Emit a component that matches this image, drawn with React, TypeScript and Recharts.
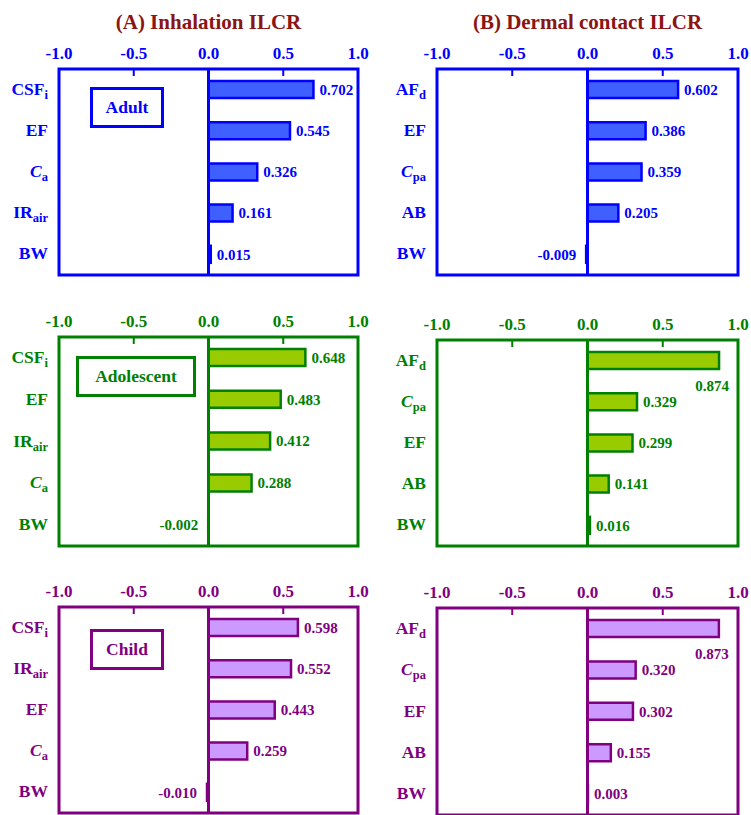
import React from 'react';
import { BarChart, Bar, XAxis, YAxis, ReferenceLine, ReferenceArea, LabelList } from 'recharts';

const FONT = '"Liberation Serif", "Times New Roman", Times, serif';

// Sensitivity values per parameter, listed top to bottom in each panel
const inhalationAdultParams = ['CSFi', 'EF', 'Ca', 'IRair', 'BW'];
const inhalationAdultValues = [0.702, 0.545, 0.326, 0.161, 0.015];
const dermalAdultParams = ['AFd', 'EF', 'Cpa', 'AB', 'BW'];
const dermalAdultValues = [0.602, 0.386, 0.359, 0.205, -0.009];

const inhalationAdolescentParams = ['CSFi', 'EF', 'IRair', 'Ca', 'BW'];
const inhalationAdolescentValues = [0.648, 0.483, 0.412, 0.288, -0.002];
const dermalAdolescentParams = ['AFd', 'Cpa', 'EF', 'AB', 'BW'];
const dermalAdolescentValues = [0.874, 0.329, 0.299, 0.141, 0.016];

const inhalationChildParams = ['CSFi', 'IRair', 'EF', 'Ca', 'BW'];
const inhalationChildValues = [0.598, 0.552, 0.443, 0.259, -0.01];
const dermalChildParams = ['AFd', 'Cpa', 'EF', 'AB', 'BW'];
const dermalChildValues = [0.873, 0.32, 0.302, 0.155, 0.003];

const axisTicks = [-1, -0.5, 0, 0.5, 1];
const columnTitles = ['(A) Inhalation ILCR', '(B) Dermal contact ILCR'];
const groupNames = ['Adult', 'Adolescent', 'Child'];

type ParamLabel = { main: string; sub?: string; italic?: boolean };
const PARAM_LABELS: Record<string, ParamLabel> = {
  CSFi: { main: 'CSF', sub: 'i' },
  EF: { main: 'EF' },
  Ca: { main: 'C', sub: 'a', italic: true },
  IRair: { main: 'IR', sub: 'air' },
  BW: { main: 'BW' },
  AFd: { main: 'AF', sub: 'd' },
  Cpa: { main: 'C', sub: 'pa', italic: true },
  AB: { main: 'AB' },
};

type Theme = { line: string; fill: string };
const THEMES: Theme[] = [
  { line: '#0000ff', fill: '#3f60ff' },
  { line: '#008000', fill: '#99cc00' },
  { line: '#800080', fill: '#cc99ff' },
];
const TITLE_COLOR = '#8b1414';

const buildRows = (params: string[], values: number[]) =>
  params.map((p, i) => ({ param: p, value: values[i] }));

const Y_AXIS_W = 60;
const TOP_SPACE = 40;

type PanelProps = {
  params: string[];
  values: number[];
  theme: Theme;
  plotLeft: number;
  plotTop: number;
  plotWidth: number;
  plotHeight: number;
};

const Panel = ({ params, values, theme, plotLeft, plotTop, plotWidth, plotHeight }: PanelProps) => {
  const data = buildRows(params, values);
  const color = theme.line;
  const plotRight = Y_AXIS_W + plotWidth;
  const width = Y_AXIS_W + plotWidth + 30;
  const height = TOP_SPACE + plotHeight + 12;

  const xTick = (props: any) => {
    const { x, y, payload } = props;
    return (
      <g>
        <line x1={x} x2={x} y1={y} y2={y + 7} stroke={color} strokeWidth={2} />
        <text
          x={x}
          y={y - 10}
          textAnchor="middle"
          fill={color}
          fontSize={17}
          fontWeight="bold"
          fontFamily={FONT}
        >
          {Number(payload.value).toFixed(1)}
        </text>
      </g>
    );
  };

  const yTick = (props: any) => {
    const { x, y, payload } = props;
    const lab = PARAM_LABELS[payload.value] || { main: String(payload.value) };
    return (
      <text
        x={x}
        y={y}
        dy={5}
        textAnchor="end"
        fill={color}
        fontSize={17.5}
        fontWeight="bold"
        fontFamily={FONT}
      >
        <tspan fontStyle={lab.italic ? 'italic' : 'normal'}>{lab.main}</tspan>
        {lab.sub ? (
          <tspan fontSize={12.5} dy={4}>
            {lab.sub}
          </tspan>
        ) : null}
      </text>
    );
  };

  const valueLabel = (props: any) => {
    const x = Number(props.x);
    const y = Number(props.y);
    const w = Number(props.width);
    const h = Number(props.height);
    const v = Number(props.value);
    const cy = y + h / 2;
    const end = x + w;
    const text = v.toFixed(3);
    const textW = text.length * 7.2;
    const common = {
      fill: color,
      fontSize: 15,
      fontWeight: 'bold' as const,
      fontFamily: FONT,
      dy: '0.35em',
    };
    if (v < 0) {
      return (
        <text x={Math.min(x, end) - 10} y={cy} textAnchor="end" {...common}>
          {text}
        </text>
      );
    }
    if (end + 6 + textW > plotRight) {
      return (
        <text x={end - 7} y={cy + 25} textAnchor="middle" {...common}>
          {text}
        </text>
      );
    }
    return (
      <text x={end + 6} y={cy} textAnchor="start" {...common}>
        {text}
      </text>
    );
  };

  return (
    <div style={{ position: 'absolute', left: plotLeft - Y_AXIS_W, top: plotTop - TOP_SPACE }}>
      <BarChart
        width={width}
        height={height}
        data={data}
        layout="vertical"
        margin={{ top: 10, right: 30, bottom: 12, left: 0 }}
        barCategoryGap={0}
      >
        <XAxis
          type="number"
          orientation="top"
          domain={[-1, 1]}
          ticks={axisTicks}
          interval={0}
          height={30}
          axisLine={false}
          tickLine={false}
          tickSize={0}
          tickMargin={0}
          tick={xTick}
          allowDataOverflow
        />
        <YAxis
          type="category"
          dataKey="param"
          width={Y_AXIS_W}
          interval={0}
          axisLine={false}
          tickLine={false}
          tickSize={0}
          tickMargin={11}
          tick={yTick}
        />
        <ReferenceArea
          x1={-1}
          x2={1}
          fill="none"
          fillOpacity={0}
          stroke={color}
          strokeWidth={3}
          ifOverflow="visible"
        />
        <Bar
          dataKey="value"
          barSize={17}
          fill={theme.fill}
          stroke={color}
          strokeWidth={2.5}
          isAnimationActive={false}
        >
          <LabelList dataKey="value" content={valueLabel} />
        </Bar>
        <ReferenceLine x={0} stroke={color} strokeWidth={3} ifOverflow="visible" />
      </BarChart>
    </div>
  );
};

const GroupBox = ({ text, color, left, top, width }: { text: string; color: string; left: number; top: number; width: number }) => (
  <div
    style={{
      position: 'absolute',
      left,
      top,
      width,
      height: 41,
      boxSizing: 'border-box',
      border: `3px solid ${color}`,
      background: '#fff',
      color,
      fontFamily: FONT,
      fontWeight: 'bold',
      fontSize: 17.5,
      lineHeight: '35px',
      textAlign: 'center',
    }}
  >
    {text}
  </div>
);

const LEFT = { plotLeft: 59, plotWidth: 299 };
const RIGHT = { plotLeft: 437, plotWidth: 301 };

export default function App() {
  return (
    <div
      style={{
        position: 'absolute',
        left: 0,
        top: 0,
        width: 751,
        height: 815,
        overflow: 'hidden',
        background: '#fff',
      }}
    >
      <div
        style={{
          position: 'absolute',
          left: LEFT.plotLeft,
          width: LEFT.plotWidth,
          top: 9,
          lineHeight: '26px',
          textAlign: 'center',
          fontFamily: FONT,
          fontWeight: 'bold',
          fontSize: 21,
          color: TITLE_COLOR,
        }}
      >
        {columnTitles[0]}
      </div>
      <div
        style={{
          position: 'absolute',
          left: RIGHT.plotLeft,
          width: RIGHT.plotWidth,
          top: 9,
          lineHeight: '26px',
          textAlign: 'center',
          fontFamily: FONT,
          fontWeight: 'bold',
          fontSize: 21,
          color: TITLE_COLOR,
        }}
      >
        {columnTitles[1]}
      </div>

      <Panel params={inhalationAdultParams} values={inhalationAdultValues} theme={THEMES[0]} {...LEFT} plotTop={69} plotHeight={206} />
      <Panel params={dermalAdultParams} values={dermalAdultValues} theme={THEMES[0]} {...RIGHT} plotTop={69} plotHeight={206} />

      <Panel params={inhalationAdolescentParams} values={inhalationAdolescentValues} theme={THEMES[1]} {...LEFT} plotTop={337} plotHeight={209} />
      <Panel params={dermalAdolescentParams} values={dermalAdolescentValues} theme={THEMES[1]} {...RIGHT} plotTop={340} plotHeight={206} />

      <Panel params={inhalationChildParams} values={inhalationChildValues} theme={THEMES[2]} {...LEFT} plotTop={607} plotHeight={206} />
      <Panel params={dermalChildParams} values={dermalChildValues} theme={THEMES[2]} {...RIGHT} plotTop={608} plotHeight={207} />

      <GroupBox text={groupNames[0]} color={THEMES[0].line} left={90} top={87} width={74} />
      <GroupBox text={groupNames[1]} color={THEMES[1].line} left={76} top={356} width={120} />
      <GroupBox text={groupNames[2]} color={THEMES[2].line} left={90} top={629} width={74} />
    </div>
  );
}
